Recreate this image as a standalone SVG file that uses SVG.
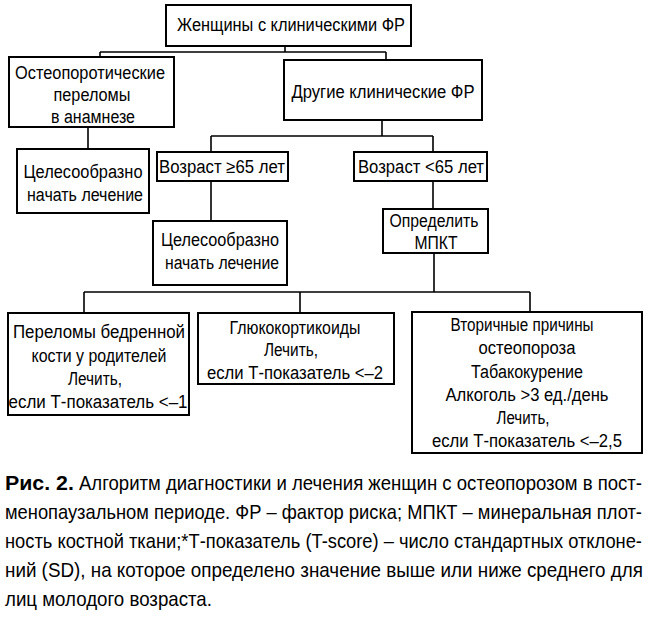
<svg xmlns="http://www.w3.org/2000/svg" width="650" height="627" viewBox="0 0 650 627">
<style>
.box{fill:#fff;stroke:#000;stroke-width:2}
.ln{fill:none;stroke:#000;stroke-width:1.6}
.t{font-family:"Liberation Sans Narrow","Liberation Sans",Arial,sans-serif;font-size:18px;fill:#000;text-anchor:middle}
.c{font-family:"Liberation Sans Narrow","Liberation Sans",Arial,sans-serif;font-size:21px;fill:#000}
.b{font-weight:bold}
</style>
<rect width="650" height="627" fill="#fff"/>
<g id="connectors">
<path class="ln" d="M285 46V52M100 52H386M100 52V57M386 52V60"/>
<path class="ln" d="M88 127V149"/>
<path class="ln" d="M382 120V136M211 136H433M211 136V152M433 136V152"/>
<path class="ln" d="M211 181V221"/>
<path class="ln" d="M433 181V209"/>
<path class="ln" d="M434 253V292M84 292H530M84 292V313M300 292V313M530 292V312"/>
</g>
<g id="n1"><rect class="box" x="166" y="5" width="245" height="41"/>
<text class="t" x="291" y="31" textLength="228" lengthAdjust="spacingAndGlyphs">Женщины с клиническими ФР</text></g>
<g id="n2"><rect class="box" x="9" y="57" width="165" height="70"/>
<text class="t" x="90" y="79" textLength="150" lengthAdjust="spacingAndGlyphs">Остеопоротические</text>
<text class="t" x="92" y="101" textLength="77" lengthAdjust="spacingAndGlyphs">переломы</text>
<text class="t" x="93" y="123" textLength="84" lengthAdjust="spacingAndGlyphs">в анамнезе</text></g>
<g id="n3"><rect class="box" x="284" y="60" width="198" height="60"/>
<text class="t" x="383" y="98" textLength="183" lengthAdjust="spacingAndGlyphs">Другие клинические ФР</text></g>
<g id="n4"><rect class="box" x="17" y="149" width="132" height="64"/>
<text class="t" x="83" y="178" textLength="119" lengthAdjust="spacingAndGlyphs">Целесообразно</text>
<text class="t" x="85" y="201" textLength="116" lengthAdjust="spacingAndGlyphs">начать лечение</text></g>
<g id="n5"><rect class="box" x="157" y="152" width="131" height="29"/>
<text class="t" x="222" y="173" textLength="126" lengthAdjust="spacingAndGlyphs">Возраст ≥65 лет</text></g>
<g id="n6"><rect class="box" x="354" y="152" width="133" height="29"/>
<text class="t" x="421" y="173" textLength="126" lengthAdjust="spacingAndGlyphs">Возраст &lt;65 лет</text></g>
<g id="n7"><rect class="box" x="153" y="221" width="134" height="64"/>
<text class="t" x="220" y="246" textLength="118" lengthAdjust="spacingAndGlyphs">Целесообразно</text>
<text class="t" x="222" y="269" textLength="114" lengthAdjust="spacingAndGlyphs">начать лечение</text></g>
<g id="n8"><rect class="box" x="383" y="209" width="105" height="44"/>
<text class="t" x="434" y="227" textLength="89" lengthAdjust="spacingAndGlyphs">Определить</text>
<text class="t" x="436" y="249" textLength="43" lengthAdjust="spacingAndGlyphs">МПКТ</text></g>
<g id="n9"><rect class="box" x="8" y="313" width="181" height="102"/>
<text class="t" x="99" y="338" textLength="172" lengthAdjust="spacingAndGlyphs">Переломы бедренной</text>
<text class="t" x="99" y="362" textLength="135" lengthAdjust="spacingAndGlyphs">кости у родителей</text>
<text class="t" x="95" y="385" textLength="54" lengthAdjust="spacingAndGlyphs">Лечить,</text>
<text class="t" x="98" y="408" textLength="179" lengthAdjust="spacingAndGlyphs">если Т-показатель &lt;–1</text></g>
<g id="n10"><rect class="box" x="198" y="313" width="196" height="71"/>
<text class="t" x="295" y="334" textLength="131" lengthAdjust="spacingAndGlyphs">Глюкокортикоиды</text>
<text class="t" x="291" y="356" textLength="54" lengthAdjust="spacingAndGlyphs">Лечить,</text>
<text class="t" x="295" y="379" textLength="176" lengthAdjust="spacingAndGlyphs">если Т-показатель &lt;–2</text></g>
<g id="n11"><rect class="box" x="412" y="312" width="230" height="141"/>
<text class="t" x="522" y="331" textLength="143" lengthAdjust="spacingAndGlyphs">Вторичные причины</text>
<text class="t" x="527" y="354" textLength="97" lengthAdjust="spacingAndGlyphs">остеопороза</text>
<text class="t" x="527" y="378" textLength="112" lengthAdjust="spacingAndGlyphs">Табакокурение</text>
<text class="t" x="527" y="401" textLength="163" lengthAdjust="spacingAndGlyphs">Алкоголь &gt;3 ед./день</text>
<text class="t" x="523" y="424" textLength="53" lengthAdjust="spacingAndGlyphs">Лечить,</text>
<text class="t" x="527" y="447" textLength="190" lengthAdjust="spacingAndGlyphs">если Т-показатель &lt;–2,5</text></g>
<g id="caption" transform="scale(0.82,1)">
<text class="c b" x="6.1" y="490" textLength="84" lengthAdjust="spacingAndGlyphs">Рис. 2.</text>
<text class="c" x="96.3" y="490" textLength="686.6" lengthAdjust="spacingAndGlyphs">Алгоритм диагностики и лечения женщин с остеопорозом в пост-</text>
<text class="c" x="6.1" y="519" textLength="776.8" lengthAdjust="spacingAndGlyphs">менопаузальном периоде. ФР – фактор риска; МПКТ – минеральная плот-</text>
<text class="c" x="6.1" y="548" textLength="776.8" lengthAdjust="spacingAndGlyphs">ность костной ткани;*Т-показатель (T-score) – число стандартных отклоне-</text>
<text class="c" x="6.1" y="577" textLength="778" lengthAdjust="spacingAndGlyphs">ний (SD), на которое определено значение выше или ниже среднего для</text>
<text class="c" x="6.1" y="606" textLength="252.4" lengthAdjust="spacingAndGlyphs">лиц молодого возраста.</text>
</g>
</svg>
